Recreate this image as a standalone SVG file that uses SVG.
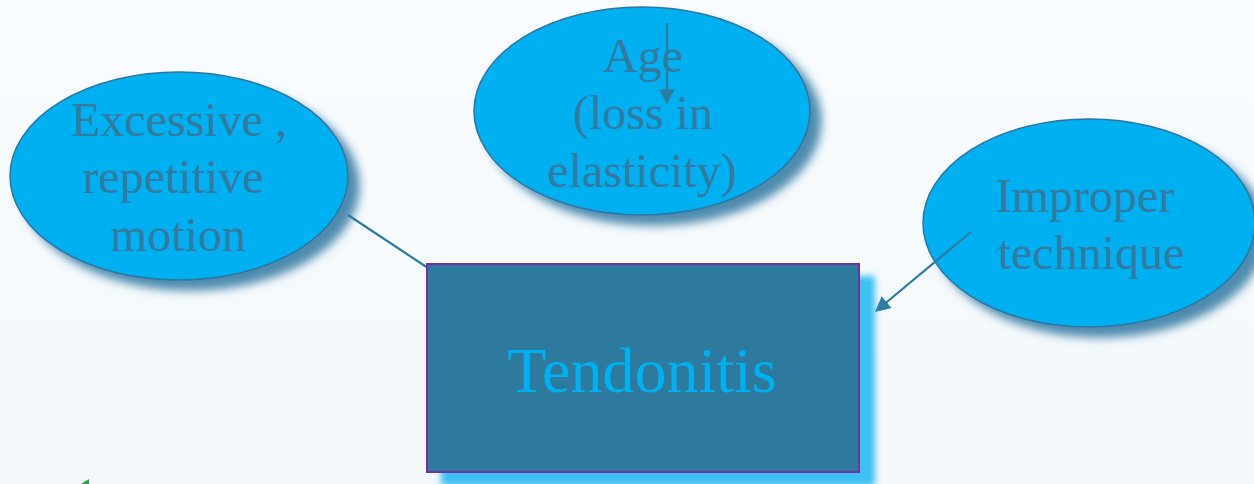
<svg xmlns="http://www.w3.org/2000/svg" width="1254" height="484" viewBox="0 0 1254 484">
<defs>
<linearGradient id="bg" x1="0" y1="0" x2="0" y2="1">
<stop offset="0" stop-color="#F8FCFE"/>
<stop offset="1" stop-color="#F3F8FC"/>
</linearGradient>
<filter id="ellShadow" x="-20%" y="-20%" width="150%" height="150%">
<feGaussianBlur in="SourceAlpha" stdDeviation="5"/>
<feOffset dx="11" dy="10" result="b"/>
<feFlood flood-color="#3C7FA6" flood-opacity="0.9"/>
<feComposite in2="b" operator="in" result="s"/>
<feMerge><feMergeNode in="s"/><feMergeNode in="SourceGraphic"/></feMerge>
</filter>
<filter id="rectGlow" x="-10%" y="-10%" width="130%" height="140%">
<feGaussianBlur in="SourceAlpha" stdDeviation="3"/>
<feOffset dx="15" dy="13" result="b"/>
<feFlood flood-color="#3CC0F2" flood-opacity="1"/>
<feComposite in2="b" operator="in" result="s"/>
<feMerge><feMergeNode in="s"/><feMergeNode in="SourceGraphic"/></feMerge>
</filter>
<marker id="arrow" viewBox="0 0 10 10" refX="9" refY="5" markerWidth="7" markerHeight="7" orient="auto" markerUnits="strokeWidth">
<path d="M0,0 L10,5 L0,10 Z" fill="#2E7BA0"/>
</marker>
</defs>
<style>
.ell{fill:#00B0F0;stroke:#2E75A0;stroke-width:1.5;}
.etext{font-family:"Liberation Serif","Times New Roman",serif;font-size:48px;fill:#3579A0;text-anchor:middle;}
.conn{stroke:#2E7BA0;stroke-width:2.2;fill:none;}
</style>
<rect x="0" y="0" width="1254" height="484" fill="url(#bg)"/>

<g id="node-excessive">
<ellipse class="ell" cx="179" cy="176" rx="169" ry="104" filter="url(#ellShadow)"/>
<text class="etext" x="179" y="136">Excessive ,</text>
<text class="etext" x="173" y="193">repetitive</text>
<text class="etext" x="178" y="251">motion</text>
</g>

<g id="node-age">
<ellipse class="ell" cx="642" cy="111" rx="168" ry="104" filter="url(#ellShadow)"/>
<text class="etext" x="643" y="72">Age</text>
<text class="etext" x="643" y="129">(loss in</text>
<text class="etext" x="642" y="187">elasticity)</text>
</g>

<g id="node-improper">
<ellipse class="ell" cx="1089" cy="223" rx="166" ry="104" filter="url(#ellShadow)"/>
<text class="etext" x="1085" y="212">Improper</text>
<text class="etext" x="1091" y="269">technique</text>
</g>

<g id="connectors">
<line class="conn" x1="348" y1="215" x2="428" y2="268"/>
<line class="conn" x1="667" y1="23" x2="667" y2="103" marker-end="url(#arrow)"/>
<line class="conn" x1="971" y1="232" x2="876" y2="311" marker-end="url(#arrow)"/>
</g>

<g id="node-tendonitis">
<rect x="427" y="264" width="432" height="208" fill="#2D7A9F" stroke="#7030A0" stroke-width="2" filter="url(#rectGlow)"/>
<text x="642" y="392" font-family="'Liberation Serif','Times New Roman',serif" font-size="64" fill="#00B0F0" text-anchor="middle">Tendonitis</text>
</g>

<polygon points="81,484 89,479 89,484" fill="#2E9E3E"/>
</svg>
